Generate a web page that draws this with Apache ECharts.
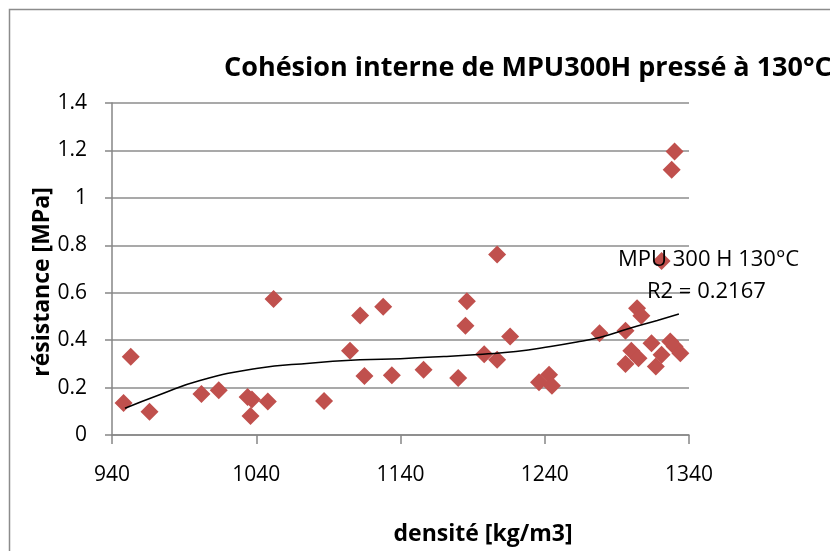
<!DOCTYPE html>
<html>
<head>
<meta charset="utf-8">
<script src="https://cdn.jsdelivr.net/npm/echarts@6/dist/echarts.min.js"></script>
<style>
html,body{margin:0;padding:0;background:#fff;}
#chart{width:830px;height:551px;}
</style>
</head>
<body>
<div id="chart"></div>
<script>
// densité [kg/m3]
var densite = [948, 953, 966, 1002, 1014, 1034, 1037, 1036, 1048, 1052,
    1087, 1105, 1112, 1115, 1128, 1134, 1156, 1180, 1186, 1185,
    1198, 1207, 1207, 1216, 1236, 1243, 1245, 1278, 1296, 1304,
    1307, 1300, 1296, 1305, 1314, 1317, 1321, 1327, 1330, 1334,
    1321, 1330, 1328];
// résistance [MPa]
var resistance = [0.135, 0.33, 0.098, 0.173, 0.189, 0.16, 0.15, 0.08, 0.141, 0.573,
    0.143, 0.355, 0.504, 0.249, 0.541, 0.252, 0.275, 0.24, 0.564, 0.461,
    0.341, 0.761, 0.317, 0.415, 0.222, 0.254, 0.208, 0.429, 0.44, 0.534,
    0.503, 0.355, 0.299, 0.324, 0.387, 0.289, 0.338, 0.394, 0.373, 0.345,
    0.734, 1.195, 1.118];
// courbe de tendance
var trendX = [949, 973, 1001, 1040, 1077, 1112, 1140, 1170, 1197, 1220, 1244, 1264, 1278, 1299, 1318, 1333];
var trendY = [0.113, 0.17, 0.23, 0.28, 0.303, 0.317, 0.322, 0.331, 0.341, 0.352, 0.373, 0.394, 0.411, 0.45, 0.483, 0.51];
var xTicks = [940, 1040, 1140, 1240, 1340];

var pts = [];
for (var i = 0; i < densite.length; i++) {
    pts.push([densite[i], resistance[i]]);
}
var trend = [];
for (var j = 0; j < trendX.length; j++) {
    trend.push([trendX[j], trendY[j]]);
}

var font = '"Open Sans", "Noto Sans", sans-serif';
var myChart = echarts.init(document.getElementById('chart'));
var option = {
    backgroundColor: '#fff',
    animation: false,
    title: {
        text: 'Cohésion interne de MPU300H pressé à 130°C',
        left: 224,
        top: 55,
        padding: 0,
        textStyle: {fontFamily: font, fontSize: 27, fontWeight: 'bold', color: '#000'}
    },
    grid: {left: 112, right: 141, top: 103, bottom: 114},
    xAxis: {
        type: 'value',
        min: xTicks[0],
        max: xTicks[xTicks.length - 1],
        interval: 100,
        name: 'densité [kg/m3]',
        nameLocation: 'middle',
        nameGap: 88,
        nameMoveOverlap: false,
        nameTextStyle: {fontFamily: font, fontSize: 23, fontWeight: 'bold', color: '#000',
            padding: [0, 0, 0, 165]},
        axisLine: {show: true, lineStyle: {color: '#868686', width: 1.5}},
        axisTick: {show: true, length: 9, lineStyle: {color: '#868686', width: 1.5}},
        axisLabel: {fontFamily: font, fontSize: 21, color: '#000', margin: 30,
            formatter: function (v) { return String(v); }},
        splitLine: {show: false}
    },
    yAxis: {
        type: 'value',
        min: 0,
        max: 1.4,
        interval: 0.2,
        name: 'résistance [MPa]',
        nameLocation: 'middle',
        nameGap: 58,
        nameMoveOverlap: false,
        nameRotate: 90,
        nameTextStyle: {fontFamily: font, fontSize: 23, fontWeight: 'bold', color: '#000',
            padding: [0, 26, 0, 0]},
        axisLine: {show: true, lineStyle: {color: '#868686', width: 1.5}},
        axisTick: {show: true, length: 7, lineStyle: {color: '#868686', width: 1.5}},
        axisLabel: {fontFamily: font, fontSize: 21, color: '#000', margin: 25,
            formatter: function (v) { return String(Math.round(v * 10) / 10); }},
        splitLine: {show: true, lineStyle: {color: '#8c8c8c', width: 1.5}}
    },
    graphic: [
        {type: 'rect', left: 7, top: 7, shape: {width: 900, height: 600},
            style: {fill: 'none', stroke: '#8c8c8c', lineWidth: 1.5}, silent: true, z: -1},
        {type: 'text', left: 618, top: 249,
            style: {text: 'MPU 300 H 130°C', font: '22px ' + font, fill: '#000'}, z: 10},
        {type: 'text', left: 647, top: 281,
            style: {text: 'R2 = 0.2167', font: '22px ' + font, fill: '#000'}, z: 10}
    ],
    series: [
        {
            type: 'scatter',
            symbol: 'diamond',
            symbolSize: 18,
            itemStyle: {color: '#C0504D', opacity: 1},
            data: pts,
            z: 2
        },
        {
            type: 'line',
            smooth: true,
            showSymbol: false,
            lineStyle: {color: '#000', width: 1.5},
            data: trend,
            z: 3
        }
    ]
};
myChart.setOption(option);
</script>
</body>
</html>
